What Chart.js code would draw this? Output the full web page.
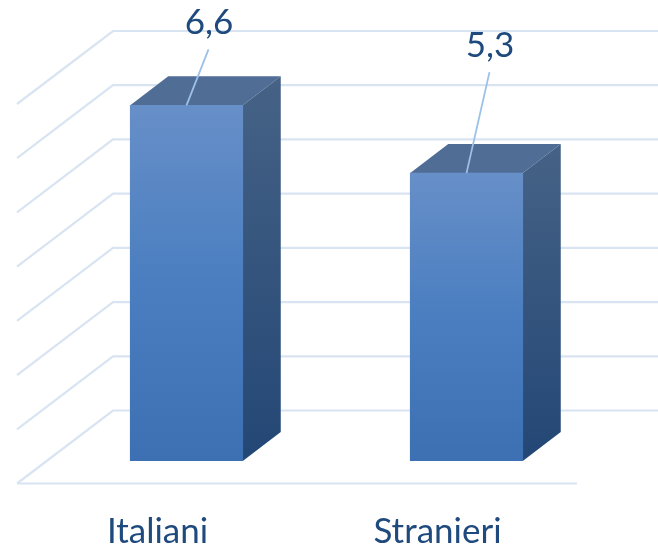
<!DOCTYPE html>
<html>
<head>
<meta charset="utf-8">
<title>Italiani e stranieri</title>
<script src="https://cdn.jsdelivr.net/npm/chart.js@4"></script>
<style>
html, body { margin: 0; padding: 0; background: #fff; overflow: hidden; }
canvas { display: block; }
</style>
</head>
<body>
<canvas id="chart" width="658" height="544"></canvas>
<script>
// data
var categories = ["Italiani", "Stranieri"];
var values = [6.56, 5.31];
var yTicks = [0, 1, 2, 3, 4, 5, 6, 7];

// where the value labels and category labels sit, relative to the bars
var labelOffsets = [[22, -56], [23, -101]];
var categoryOffset = -29;

var textColor = "#1f4a7d";
var gridColor = "#d9e4f3";
var font = "35px Lato";

// fake 3d: the bars stand in the middle of the floor
var barDepth = { x: 38, y: 29 };
var floorFront = { x: -29.5, y: 22.5 };
var floorBack = { x: 66.5, y: -50.5 };

function verticalGradient(ctx, top, bottom, stops) {
    var g = ctx.createLinearGradient(0, top, 0, bottom);
    stops.forEach(function (s) { g.addColorStop(s[0], s[1]); });
    return g;
}

function poly(ctx, pts, fill) {
    ctx.beginPath();
    ctx.moveTo(pts[0][0], pts[0][1]);
    for (var i = 1; i < pts.length; i++) ctx.lineTo(pts[i][0], pts[i][1]);
    ctx.closePath();
    ctx.fillStyle = fill;
    ctx.fill();
}

var wall = {
    id: "wall",
    beforeDatasetsDraw: function (chart) {
        var ctx = chart.ctx, x = chart.scales.x, y = chart.scales.y;
        ctx.save();
        ctx.strokeStyle = gridColor;
        ctx.lineWidth = 2.2;
        yTicks.forEach(function (t) {
            var py = y.getPixelForValue(t);
            ctx.beginPath();
            ctx.moveTo(x.left + floorFront.x, py + floorFront.y);
            ctx.lineTo(x.left + floorBack.x, py + floorBack.y);
            ctx.lineTo(chart.width, py + floorBack.y);
            ctx.stroke();
        });
        var py0 = y.getPixelForValue(0);
        ctx.beginPath();
        ctx.moveTo(x.left + floorFront.x, py0 + floorFront.y);
        ctx.lineTo(x.right + floorFront.x, py0 + floorFront.y);
        ctx.stroke();

        // top and side of the bars
        chart.getDatasetMeta(0).data.forEach(function (bar) {
            var l = bar.x - bar.width / 2, r = bar.x + bar.width / 2;
            var d = barDepth;
            poly(ctx, [[l, bar.y], [l + d.x, bar.y - d.y], [r + d.x, bar.y - d.y], [r, bar.y]], "#506d96");
            poly(ctx, [[r, bar.y], [r + d.x, bar.y - d.y], [r + d.x, bar.base - d.y], [r, bar.base]],
                verticalGradient(ctx, bar.y - d.y, bar.base, [[0, "#466286"], [1, "#234775"]]));
        });
        ctx.restore();
    },
    afterDatasetsDraw: function (chart) {
        var ctx = chart.ctx, x = chart.scales.x;
        ctx.save();
        ctx.font = font;
        ctx.fillStyle = textColor;
        ctx.textAlign = "center";
        ctx.textBaseline = "alphabetic";
        chart.getDatasetMeta(0).data.forEach(function (bar, i) {
            var o = labelOffsets[i];
            ctx.strokeStyle = "#9dc0e8";
            ctx.lineWidth = 1.8;
            ctx.beginPath();
            ctx.moveTo(bar.x, bar.y);
            ctx.lineTo(bar.x + o[0], bar.y + o[1]);
            ctx.stroke();
            ctx.fillText(values[i].toFixed(1).replace(".", ","), bar.x + o[0] + 0.5, bar.y + o[1] - 15);
            ctx.fillText(categories[i], x.getPixelForValue(i) + categoryOffset, 543);
        });
        ctx.restore();
    }
};

new Chart(document.getElementById("chart"), {
    type: "bar",
    data: {
        labels: categories,
        datasets: [{
            data: values,
            barThickness: 112.5,
            backgroundColor: function (c) {
                var chart = c.chart;
                if (!chart.chartArea) return "#4a7fc0";
                var y = chart.scales.y;
                return verticalGradient(chart.ctx, y.getPixelForValue(c.raw), y.getPixelForValue(0),
                    [[0, "#678fc8"], [0.5, "#4a7ec0"], [1, "#3d70b2"]]);
            }
        }]
    },
    options: {
        responsive: false,
        animation: false,
        layout: { padding: { left: 46.5, right: 51.5, top: 81.5, bottom: 83 } },
        plugins: { legend: { display: false }, tooltip: { enabled: false } },
        scales: {
            x: { display: false },
            y: { display: false, min: 0, max: 7 }
        }
    },
    plugins: [wall]
});
</script>
</body>
</html>
